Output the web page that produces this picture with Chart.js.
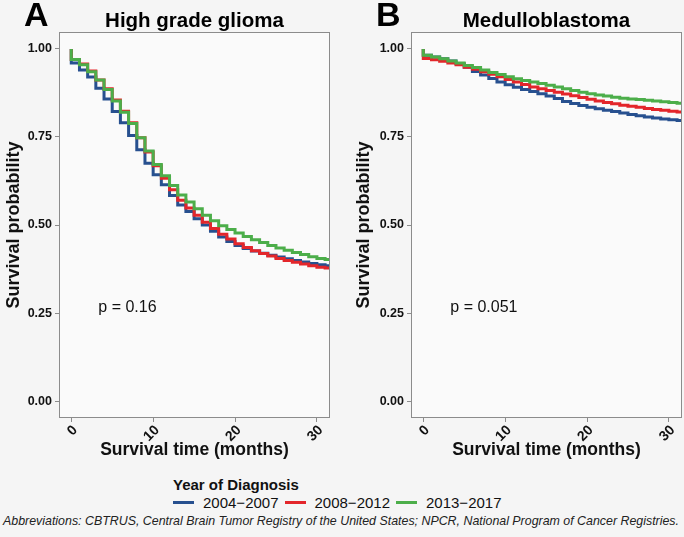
<!DOCTYPE html>
<html>
<head>
<meta charset="utf-8">
<script src="https://cdn.jsdelivr.net/npm/chart.js@4.4.0/dist/chart.umd.min.js"></script>
<style>
  body { margin: 0; background: #f5f5f5; font-family: 'Liberation Sans', Arial, sans-serif; }
  #wrap { position: relative; width: 684px; height: 537px; overflow: hidden; background: #f5f5f5; }
  canvas { position: absolute; top: 0; }
  .tag { position: absolute; top: -5px; font-size: 34px; font-weight: bold; color: #000; }
  .ttl { position: absolute; top: 8px; font-size: 20.5px; font-weight: bold; color: #000; text-align: center; }
  #legTitle { position: absolute; left: 173px; top: 476px; font-size: 15px; font-weight: bold; color: #111; }
  #legend { position: absolute; left: 173px; top: 494px; font-size: 15px; color: #111; display: flex; align-items: center; }
  #legend .sw { display: inline-block; width: 21px; height: 3px; margin-right: 9px; }
  #legend .lb { margin-right: 6px; }
  #note { position: absolute; left: 3px; top: 514px; font-size: 12.4px; font-style: italic; color: #222; white-space: nowrap; }
</style>
</head>
<body>
<div id="wrap">
  <canvas id="grafA" width="342" height="470" style="left:0"></canvas>
  <canvas id="grafB" width="334" height="470" style="left:350px"></canvas>
  <div class="tag" style="left:24px">A</div>
  <div class="tag" style="left:376px">B</div>
  <div class="ttl" style="left:59px;width:271px">High grade glioma</div>
  <div class="ttl" style="left:411px;width:271px">Medulloblastoma</div>
  <div id="legTitle">Year of Diagnosis</div>
  <div id="legend"></div>
  <div id="note">Abbreviations: CBTRUS, Central Brain Tumor Registry of the United States; NPCR, National Program of Cancer Registries.</div>
</div>
<script>
// meses (o primeiro 0 repetido marca o ponto inicial em 1.0)
const meses = [0, 0, 1, 2, 3, 4, 5, 6, 7, 8, 9, 10, 11, 12, 13, 14, 15, 16, 17, 18, 19, 20,
  21, 22, 23, 24, 25, 26, 27, 28, 29, 30, 31, 32];
const periodos = ['2004\u22122007', '2008\u22122012', '2013\u22122017'];
const cores = ['#27508f', '#e3262b', '#4cae4a'];

// High grade glioma
const gliomaA = [1, 0.974, 0.960, 0.940, 0.920, 0.888, 0.858, 0.822, 0.790, 0.754, 0.714, 0.675,
  0.643, 0.614, 0.584, 0.557, 0.538, 0.518, 0.500, 0.482, 0.466, 0.453, 0.442, 0.433, 0.426,
  0.420, 0.414, 0.409, 0.404, 0.399, 0.395, 0.391, 0.387, 0.384];
const gliomaB = [1, 0.978, 0.970, 0.957, 0.937, 0.912, 0.887, 0.855, 0.823, 0.790, 0.748, 0.707,
  0.668, 0.633, 0.600, 0.570, 0.548, 0.528, 0.508, 0.490, 0.474, 0.460, 0.447, 0.436, 0.427,
  0.419, 0.412, 0.405, 0.399, 0.394, 0.389, 0.384, 0.380, 0.378];
const gliomaC = [1, 0.985, 0.970, 0.955, 0.935, 0.912, 0.885, 0.852, 0.820, 0.788, 0.748, 0.710,
  0.672, 0.640, 0.612, 0.585, 0.565, 0.546, 0.528, 0.512, 0.498, 0.487, 0.477, 0.467, 0.458,
  0.450, 0.442, 0.435, 0.428, 0.422, 0.416, 0.410, 0.405, 0.402];

// Medulloblastoma
const meduloA = [1, 0.985, 0.982, 0.977, 0.972, 0.966, 0.958, 0.948, 0.936, 0.926, 0.916, 0.906,
  0.898, 0.891, 0.885, 0.879, 0.873, 0.866, 0.859, 0.851, 0.845, 0.839, 0.834, 0.830, 0.826,
  0.822, 0.818, 0.814, 0.810, 0.807, 0.804, 0.801, 0.799, 0.797];
const meduloB = [1, 0.976, 0.973, 0.969, 0.965, 0.960, 0.955, 0.948, 0.942, 0.935, 0.928, 0.921,
  0.913, 0.906, 0.899, 0.892, 0.887, 0.882, 0.877, 0.872, 0.867, 0.862, 0.857, 0.852, 0.848,
  0.844, 0.840, 0.837, 0.834, 0.831, 0.828, 0.826, 0.823, 0.821];
const meduloC = [1, 0.986, 0.982, 0.977, 0.972, 0.966, 0.960, 0.953, 0.947, 0.940, 0.933, 0.927,
  0.921, 0.915, 0.910, 0.906, 0.902, 0.897, 0.892, 0.887, 0.882, 0.877, 0.873, 0.869, 0.866,
  0.863, 0.860, 0.858, 0.856, 0.854, 0.852, 0.850, 0.848, 0.846];

const ticksX = [0, 10, 20, 30];
const ticksY = [0, 0.25, 0.5, 0.75, 1];

// legenda em html
const leg = document.getElementById('legend');
periodos.forEach((p, i) => {
  leg.insertAdjacentHTML('beforeend',
    `<span class="sw" style="background:${cores[i]}"></span><span class="lb">${p}</span>`);
});

const fundoPainel = {
  id: 'fundoPainel',
  beforeDraw(chart) {
    const a = chart.chartArea, c = chart.ctx;
    c.save();
    c.fillStyle = '#fafafa';
    c.fillRect(a.left, a.top, a.right - a.left, a.bottom - a.top);
    c.restore();
  },
  afterDraw(chart) {
    const a = chart.chartArea, c = chart.ctx;
    c.save();
    c.strokeStyle = '#8c8c8c';
    c.lineWidth = 1;
    c.strokeRect(a.left + 0.5, a.top + 0.5, a.right - a.left - 1, a.bottom - a.top - 1);
    const o = chart.options.plugins.pvalor;
    c.fillStyle = '#111';
    c.font = '16px "Liberation Sans", Arial, sans-serif';
    c.textBaseline = 'middle';
    c.fillText(o.texto, chart.scales.x.getPixelForValue(o.x), chart.scales.y.getPixelForValue(o.y));
    c.restore();
  }
};

function grafico(id, series, pTexto, largY) {
  const ctx = document.getElementById(id).getContext('2d');
  return new Chart(ctx, {
    type: 'line',
    data: {
      datasets: series.map((s, i) => ({
        label: periodos[i],
        data: meses.map((t, j) => ({ x: t, y: s[j] })),
        borderColor: cores[i],
        borderWidth: 3,
        stepped: 'after',
        pointRadius: 0,
        fill: false,
        order: 2 - i
      }))
    },
    options: {
      responsive: false,
      animation: false,
      layout: { padding: { top: 32, right: id === 'grafA' ? 12 : 2, left: 0, bottom: 0 } },
      plugins: {
        legend: { display: false },
        tooltip: { enabled: false },
        pvalor: { texto: pTexto, x: 3.3, y: 0.266 }
      },
      scales: {
        x: {
          type: 'linear',
          min: -1.5,
          max: 31.6,
          afterBuildTicks: (s) => { s.ticks = ticksX.map(v => ({ value: v })); },
          afterFit: (s) => { s.height = 52; },
          grid: { display: true, drawOnChartArea: false, tickLength: 4, color: '#8c8c8c' },
          border: { display: false },
          ticks: {
            minRotation: 45, maxRotation: 45, padding: 0, labelOffset: 4,
            color: '#111',
            font: { family: 'Liberation Sans', size: 14, weight: 'bold' }
          },
          title: {
            display: true, text: 'Survival time (months)', color: '#111',
            padding: { top: 0, bottom: 9 },
            font: { family: 'Liberation Sans', size: 17.5, weight: 'bold' }
          }
        },
        y: {
          min: -0.048,
          max: 1.048,
          afterBuildTicks: (s) => { s.ticks = ticksY.map(v => ({ value: v })); },
          afterFit: (s) => { s.width = largY; },
          grid: { display: true, drawOnChartArea: false, tickLength: 4, color: '#8c8c8c' },
          border: { display: false },
          ticks: {
            padding: 3, color: '#111',
            font: { family: 'Liberation Sans', size: 12.5, weight: 'bold' },
            callback: (v) => v.toFixed(2)
          },
          title: {
            display: true, text: 'Survival probability', color: '#111',
            padding: { top: 3, bottom: 0 },
            font: { family: 'Liberation Sans', size: 18, weight: 'bold' }
          }
        }
      }
    },
    plugins: [fundoPainel]
  });
}

grafico('grafA', [gliomaA, gliomaB, gliomaC], 'p = 0.16', 59);
grafico('grafB', [meduloA, meduloB, meduloC], 'p = 0.051', 61);
</script>
</body>
</html>
